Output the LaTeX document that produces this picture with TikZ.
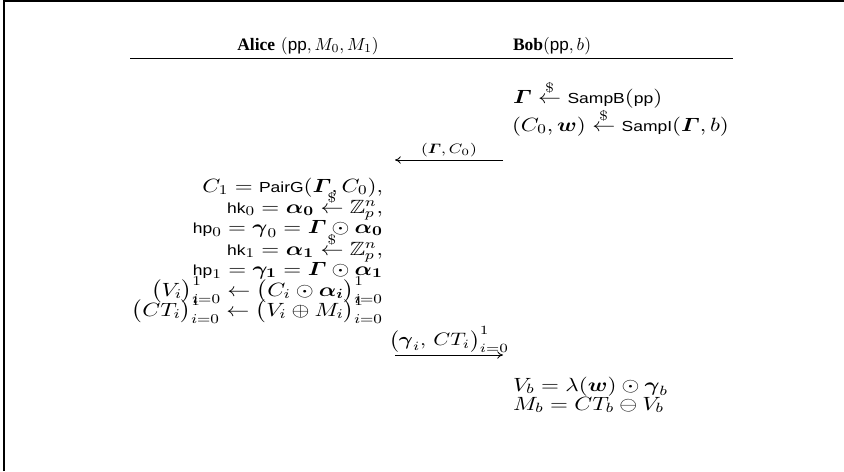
\documentclass[tikz,border=0pt]{standalone}
\usepackage{fix-cm}
\usepackage{amsmath,amssymb}
\usepackage{graphicx}
\usepackage[no-math]{fontspec}
\newfontfamily\helv[Scale=0.76]{Liberation Sans}
\newfontfamily\tms{Liberation Serif}
\newcommand{\sfn}[1]{\text{\helv #1}}
\newcommand{\rnd}{\overset{\$}{\leftarrow}}
\newcommand{\bG}{\boldsymbol{\varGamma}}
\newcommand{\sx}[1]{\scalebox{1.2}[1]{#1}}
\usetikzlibrary{arrows.meta}
\begin{document}
\begin{tikzpicture}[x=0.6pt,y=-0.6pt,
  txt/.style={inner sep=0pt, outer sep=0pt, font=\fontsize{11.5}{14}\selectfont},
  head/.style={inner sep=0pt, outer sep=0pt, font=\fontsize{10.5}{12}\selectfont},
  lft/.style={txt, anchor=base east},
  rgt/.style={txt, anchor=base west},
  msg/.style={line width=0.5pt, -{To[length=3.5pt,width=4.5pt]}},
  frame/.style={line width=0.9pt},
  rule/.style={line width=0.6pt}]
\useasboundingbox (0,0) rectangle (844,471);
\coordinate (f1) at (4,471);
\coordinate (f2) at (4,1);
\coordinate (f3) at (844,1);
\draw[frame] (f1) -- (f2) -- (f3);
\node[head, anchor=base] (ah) at (308,50) {{\tms\bfseries Alice} $(\text{\helv\fontsize{13.5}{14}\selectfont pp}, M_0, M_1)$};
\node[head, anchor=base west] (bh) at (513,50) {{\tms\bfseries Bob}$(\text{\helv\fontsize{13.5}{14}\selectfont pp}, b)$};
\coordinate (r1) at (130,58);
\coordinate (r2) at (733,58);
\draw[rule] (r1) -- (r2);
\node[rgt] (b1) at (513,103) {\sx{$\bG \rnd \sfn{SampB}(\sfn{pp})$}};
\node[rgt] (b2) at (512,131) {\sx{$(C_0, \boldsymbol{w}) \rnd \sfn{SampI}(\bG, b)$}};
\coordinate (m1s) at (503,160);
\coordinate (m1e) at (395,160);
\draw[msg] (m1s) -- node[above=1.5pt, inner sep=0pt, font=\fontsize{8.2}{10}\selectfont] (m1l) {\sx{$(\bG, C_0)$}} (m1e);
\node[lft] (a1) at (383,192) {\sx{$C_1 = \sfn{PairG}(\bG, C_0),$}};
\node[lft] (a2) at (383,213) {\sx{$\sfn{hk}_0 = \boldsymbol{\alpha_0} \rnd \mathbb{Z}_p^n,$}};
\node[lft] (a3) at (383,233) {\sx{$\sfn{hp}_0 = \boldsymbol{\gamma}_0 = \bG \odot \boldsymbol{\alpha_0}$}};
\node[lft] (a4) at (383,255) {\sx{$\sfn{hk}_1 = \boldsymbol{\alpha_1} \rnd \mathbb{Z}_p^n,$}};
\node[lft] (a5) at (383,275) {\sx{$\sfn{hp}_1 = \boldsymbol{\gamma_1} = \bG \odot \boldsymbol{\alpha_1}$}};
\node[lft] (a6) at (383,296) {\sx{$\bigl(V_i\bigr)_{i=0}^1 \leftarrow \bigl(C_i \odot \boldsymbol{\alpha_i}\bigr)_{i=0}^1$}};
\node[lft] (a7) at (383,316) {\sx{$\bigl(CT_i\bigr)_{i=0}^1 \leftarrow \bigl(V_i \oplus M_i\bigr)_{i=0}^1$}};
\coordinate (m2s) at (395,355);
\coordinate (m2e) at (503,355);
\draw[msg] (m2s) -- node[above=1pt, inner sep=0pt, font=\fontsize{10.8}{13}\selectfont] (m2l) {\sx{$\bigl(\boldsymbol{\gamma}_i,\, CT_i\bigr)_{i=0}^1$}} (m2e);
\node[rgt] (b3) at (513,391) {\sx{$V_b = \lambda(\boldsymbol{w}) \odot \boldsymbol{\gamma}_b$}};
\node[rgt] (b4) at (513,410) {\sx{$M_b = CT_b \ominus V_b$}};
\end{tikzpicture}
\end{document}
